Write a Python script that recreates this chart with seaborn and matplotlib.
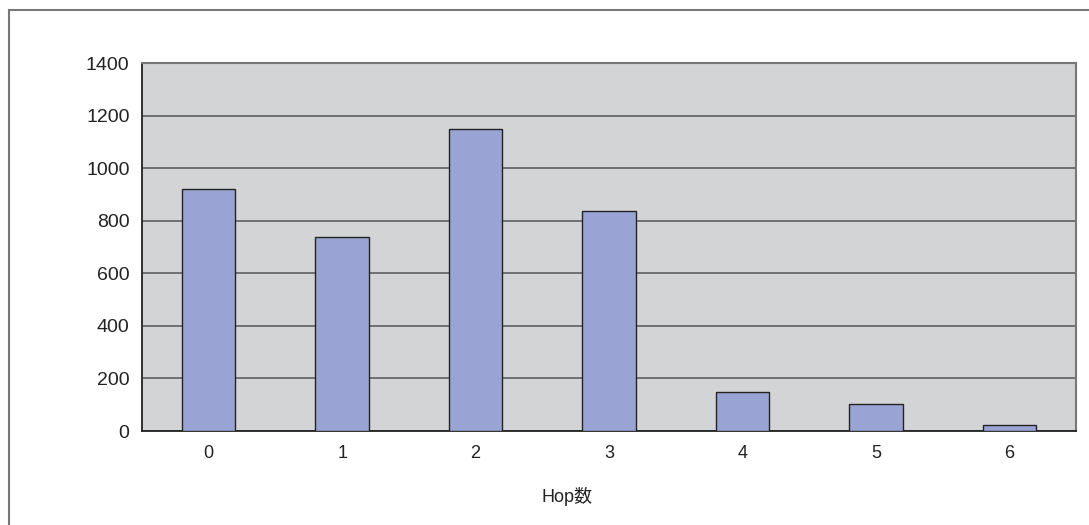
import matplotlib
matplotlib.use("Agg")
import pandas as pd
import matplotlib.pyplot as plt
import seaborn as sns
from matplotlib.patches import Rectangle

# データ
hops = ["0", "1", "2", "3", "4", "5", "6"]
counts = [920, 738, 1149, 837, 148, 104, 22]
y_ticks = [0, 200, 400, 600, 800, 1000, 1200, 1400]

data = pd.DataFrame({"hop": hops, "count": counts})

sns.set_style("white")
plt.rcParams["font.family"] = ["Liberation Sans", "Noto Sans CJK JP", "DejaVu Sans"]

fig = plt.figure(figsize=(10.89, 5.25), dpi=100)
ax = fig.add_axes([142 / 1089, 1 - 431 / 525, 934 / 1089, 368 / 525])

ax.set_facecolor("#D3D4D6")
sns.barplot(data=data, x="hop", y="count", color="#99A4D4", width=0.4,
            edgecolor="#222222", linewidth=1, saturation=1, ax=ax, zorder=3)

ax.set_ylim(0, 1400)
ax.set_xlim(-0.5, len(hops) - 0.5)
ax.set_yticks(y_ticks)
ax.set_yticklabels([str(v) for v in y_ticks])
ax.yaxis.grid(True, color="#555555", linewidth=1.1, zorder=0)
ax.set_axisbelow(True)

ax.tick_params(axis="both", length=0, labelsize=13, colors="#222222")
ax.tick_params(axis="x", pad=10)
ax.tick_params(axis="y", pad=9, labelsize=14)

for side in ["top", "right"]:
    ax.spines[side].set_color("#777777")
    ax.spines[side].set_linewidth(1.5)
for side in ["left", "bottom"]:
    ax.spines[side].set_color("#222222")
    ax.spines[side].set_linewidth(1.3)

ax.set_ylabel("")
ax.set_xlabel("")
fig.text(567 / 1089, 1 - 496 / 525, "Hop数", ha="center", va="center",
         fontsize=13, color="#222222")

# 外枠
fig.patches.append(Rectangle((9 / 1089, -0.1), 1.2, 1 - 10 / 525 + 0.1,
                             transform=fig.transFigure, fill=False,
                             edgecolor="#777777", linewidth=1.5))

fig.savefig("out.png", dpi=100)
